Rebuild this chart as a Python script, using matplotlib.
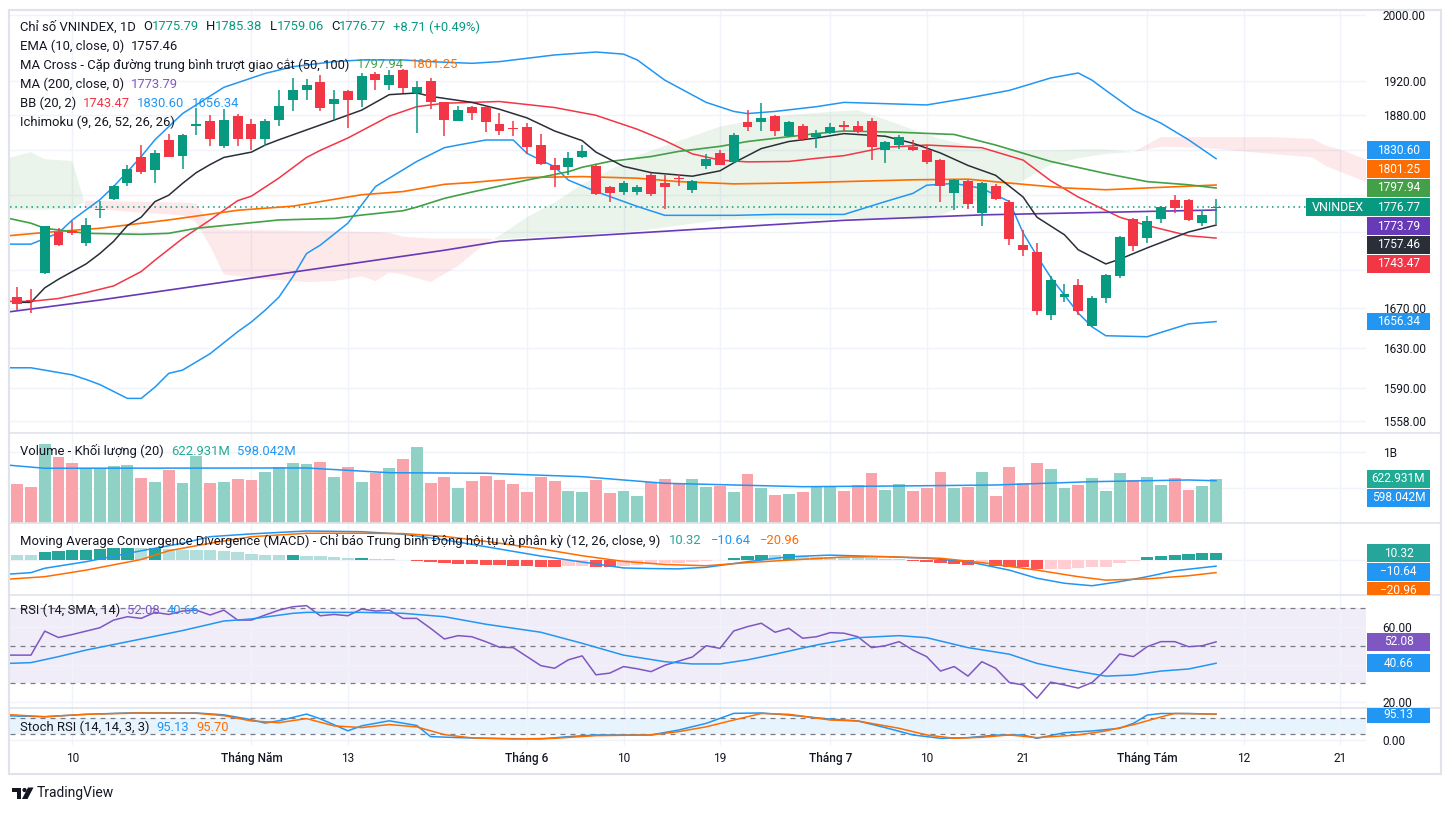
import matplotlib
matplotlib.use('Agg')
import matplotlib.pyplot as plt
import matplotlib.transforms as mtransforms
from matplotlib.patches import Rectangle, Polygon, Circle
from matplotlib.lines import Line2D
from matplotlib.ticker import NullLocator
import numpy as np

plt.rcParams['font.family'] = ['Roboto', 'DejaVu Sans']

W, H = 1452, 813
DARK = '#131722'
UP, DN = '#089981', '#f23645'
BLUE, ORANGE, GREEN, PURPLE, RSI_COL = '#2196f3', '#ff6d00', '#43a047', '#673ab7', '#7e57c2'
GRID, SEP = '#f0f3fa', '#e0e3eb'

# ---------------- data ----------------
opens = [1682, 1678, 1706, 1750, 1751, 1738, 1774, 1786, 1804, 1832,
         1818, 1852, 1834, 1868, 1874, 1845, 1879, 1870, 1853, 1875,
         1898, 1910, 1919, 1893, 1908, 1898, 1928, 1915, 1933, 1906,
         1920, 1895, 1874, 1890, 1890, 1870, 1865, 1866, 1846, 1823,
         1821, 1832, 1822, 1799, 1793, 1793, 1812, 1804, 1809, 1796,
         1822, 1837, 1827, 1872, 1872, 1879, 1856, 1868, 1855, 1860,
         1869, 1868, 1874, 1840, 1846, 1844, 1840, 1829, 1792, 1806,
         1771, 1800, 1783, 1736, 1729, 1663, 1682, 1694, 1652, 1681,
         1703, 1764, 1744, 1764, 1785, 1785, 1760, 1775.79]
highs = [1692, 1690, 1757, 1754, 1762, 1765, 1784, 1801, 1824, 1846,
         1840, 1859, 1858, 1888, 1880, 1887, 1881, 1876, 1876, 1910,
         1924, 1922, 1927, 1909, 1909, 1930, 1931, 1933, 1934, 1920,
         1924, 1896, 1891, 1891, 1891, 1883, 1874, 1871, 1858, 1831,
         1838, 1846, 1823, 1800, 1806, 1801, 1815, 1812, 1814, 1807,
         1836, 1840, 1860, 1886, 1894, 1880, 1873, 1870, 1863, 1871,
         1873, 1873, 1877, 1851, 1857, 1852, 1846, 1830, 1808, 1807,
         1805, 1802, 1785, 1752, 1738, 1703, 1695, 1700, 1683, 1705,
         1746, 1765, 1767, 1778, 1790, 1786, 1774, 1785.38]
lows = [1668, 1665, 1705, 1735, 1747, 1735, 1765, 1785, 1800, 1813,
        1804, 1832, 1819, 1857, 1845, 1843, 1845, 1840, 1845, 1868,
        1885, 1898, 1885, 1875, 1865, 1890, 1909, 1909, 1906, 1860,
        1887, 1856, 1873, 1875, 1861, 1857, 1856, 1836, 1823, 1799,
        1812, 1831, 1790, 1782, 1790, 1790, 1789, 1775, 1800, 1792,
        1819, 1823, 1826, 1862, 1862, 1856, 1855, 1851, 1843, 1859,
        1862, 1860, 1829, 1826, 1841, 1839, 1825, 1782, 1774, 1775,
        1757, 1785, 1736, 1724, 1663, 1658, 1676, 1663, 1651, 1675,
        1701, 1730, 1738, 1760, 1770, 1762, 1756, 1759.06]
closes = [1674, 1677, 1756, 1736, 1749, 1758, 1775, 1800, 1819, 1816,
          1837, 1833, 1857, 1870, 1853, 1875, 1853, 1853, 1874, 1891,
          1909, 1915, 1888, 1899, 1898, 1926, 1921, 1927, 1912, 1913,
          1896, 1875, 1886, 1883, 1872, 1862, 1864, 1844, 1825, 1818,
          1831, 1839, 1791, 1792, 1804, 1799, 1791, 1799, 1808, 1806,
          1830, 1824, 1857, 1867, 1877, 1862, 1872, 1853, 1860, 1867,
          1866, 1862, 1844, 1849, 1855, 1840, 1827, 1800, 1807, 1780,
          1804, 1786, 1742, 1731, 1667, 1699, 1685, 1667, 1680, 1704,
          1745, 1735, 1762, 1777, 1776, 1763, 1768.06, 1776.77]
volumes = [552, 510, 1119, 935, 850, 779, 779, 811, 826, 637,
           581, 755, 571, 953, 571, 581, 623, 609, 726, 793,
           850, 835, 864, 651, 797, 581, 708, 779, 906, 1076,
           566, 651, 496, 595, 666, 609, 552, 439, 651, 595,
           453, 439, 609, 425, 453, 382, 581, 623, 566, 623,
           514, 528, 443, 698, 496, 396, 415, 439, 506, 506,
           453, 538, 708, 467, 552, 453, 496, 722, 496, 510,
           722, 382, 793, 566, 850, 765, 496, 538, 637, 453,
           708, 609, 651, 538, 637, 467, 523, 622.931]

ema_idx = [0, 1, 2, 3, 4, 5, 6, 7, 8, 9, 10, 11, 12, 13, 14, 15, 16, 17, 18, 19,
           23, 25, 27, 29, 30, 33, 35, 37, 39, 41, 42, 44, 46, 49, 51, 52, 54, 56, 58, 60,
           63, 65, 67, 69, 71, 73, 74, 76, 77, 79, 80, 82, 85, 87]
ema_val = [1676, 1676, 1691, 1700, 1708, 1716, 1727, 1740, 1757, 1766, 1783, 1790, 1803, 1815,
           1824, 1832, 1835, 1838, 1846, 1852, 1874.5, 1886, 1904, 1906, 1902, 1895, 1887, 1877,
           1862, 1851, 1838, 1822, 1815, 1811, 1817, 1826, 1842, 1850, 1854, 1859, 1856, 1848,
           1837, 1823, 1812, 1788, 1766, 1747, 1731, 1716, 1721, 1733, 1750, 1757.46]

ma50_idx = [-1, 1, 2, 5, 9, 11, 13, 16, 19, 23, 25, 28, 29, 31, 33, 35, 37, 40, 41, 43,
            46, 48, 51, 53, 56, 58, 60, 64, 68, 71, 75, 79, 82, 85, 87]
ma50_val = [1766, 1759.5, 1754, 1748.6, 1747.5, 1748.6, 1754, 1758.5, 1763, 1764.6, 1768.3,
            1773, 1777, 1786.5, 1793.5, 1800, 1806.7, 1816, 1821, 1827.5, 1833, 1838.8, 1844.5,
            1850, 1855.5, 1859, 1862, 1860.5, 1858, 1846, 1827.5, 1814, 1805, 1801.5, 1797.94]

ma100_idx = [-1, 2, 6, 11, 16, 20, 25, 28, 31, 33, 37, 41, 45, 48, 52, 56, 60, 65, 69, 72,
             76, 79, 82, 87]
ma100_val = [1745.5, 1749.5, 1754, 1763, 1773.5, 1778, 1790.5, 1794, 1802, 1804, 1809.5,
             1810.6, 1808.8, 1805, 1802.5, 1803.4, 1805, 1807, 1807.7, 1803.4, 1798, 1796,
             1798, 1801.25]

ma200_idx = [-1, 6, 31, 35, 60, 70, 87]
ma200_val = [1665.5, 1678.4, 1730.5, 1740, 1762.6, 1768.5, 1773.79]

bb_mid_idx = [-1, 1, 3, 5, 7, 9, 10, 12, 14, 16, 17, 19, 21, 22, 24, 27, 29, 31, 35, 39,
              42, 45, 47, 49, 51, 53, 56, 58, 60, 63, 66, 70, 73, 75, 77, 80, 82, 85, 87]
bb_mid_val = [1677, 1677, 1680, 1686, 1693, 1708, 1720, 1743, 1763, 1784, 1789, 1809, 1832,
              1840, 1854, 1879, 1890, 1894, 1896, 1889, 1880, 1864, 1851, 1836, 1829, 1827,
              1827.5, 1831, 1834, 1843.5, 1846, 1843, 1829, 1806, 1788, 1766, 1757, 1746, 1743.47]

bb_up_idx = [-1, 1, 3, 4, 6, 7, 8, 9, 10, 12, 15, 18, 20, 23, 25, 28, 30, 33, 35, 39,
             42, 44, 45, 47, 50, 52, 53, 55, 58, 60, 66, 69, 72, 75, 77, 78, 79, 81, 83, 85, 87]
bb_up_val = [1737, 1737, 1749, 1763, 1785, 1799.5, 1816, 1833, 1852, 1882, 1912.6, 1929, 1937,
             1943, 1945, 1945, 1943, 1941, 1943, 1951, 1954.5, 1952, 1945, 1921, 1895, 1884.5,
             1882, 1884.5, 1890, 1895, 1892, 1900, 1909, 1923.6, 1929.5, 1921, 1909, 1886, 1871,
             1852, 1830.6]

bb_lo_idx = [-1, 1, 4, 5, 6, 8, 9, 10, 11, 12, 14, 16, 17, 18, 19, 20, 21, 22, 24, 26,
             29, 31, 32, 34, 36, 37, 39, 40, 42, 45, 47, 52, 55, 60, 63, 65, 66, 68, 70, 72,
             73, 74, 75, 77, 78, 79, 82, 85, 87]
bb_lo_val = [1610, 1610, 1603, 1598.5, 1593.5, 1580, 1580, 1591, 1604.5, 1607.7, 1624, 1646,
             1656, 1668, 1681.5, 1702.5, 1727, 1736, 1759.5, 1799.5, 1827.5, 1843, 1846,
             1851.7, 1851.7, 1836.5, 1821.5, 1806.7, 1794, 1777.7, 1768, 1768, 1769, 1769,
             1783, 1792, 1801, 1803, 1797.5, 1783, 1749, 1724.5, 1702, 1665, 1651, 1642, 1641,
             1654, 1656.34]

cloud_idx = [-1, 1, 2, 4, 5, 8, 12, 13, 14, 15, 18, 21, 23, 25, 26, 27, 28, 30, 32, 34,
             35, 37, 39, 41, 45, 51, 55, 59, 61, 63, 66, 67, 70, 71, 73, 75, 77, 79, 81, 83,
             86, 91, 94, 95, 96, 98]
span_a = [1830, 1838, 1830, 1828, 1776, 1772, 1768, 1760, 1735, 1705, 1700, 1697, 1698,
          1703, 1698, 1707, 1705, 1697, 1714, 1738, 1746, 1766, 1782, 1802, 1834, 1867,
          1879, 1884, 1886, 1875, 1858, 1853, 1842, 1840, 1840, 1840, 1841, 1841, 1838,
          1844, 1843, 1836, 1832, 1822, 1816, 1804]
span_b = [1774, 1774, 1774, 1775, 1784, 1783, 1782, 1781, 1757, 1752, 1752, 1751, 1751,
          1750, 1750, 1749, 1745, 1743, 1743, 1743, 1742, 1744, 1745, 1747, 1751, 1763,
          1764, 1764, 1765, 1765, 1763, 1768, 1786, 1792, 1806, 1824, 1831, 1836, 1838,
          1855, 1855, 1855, 1853, 1845, 1841, 1829]

vol_ma_idx = [-1, 2, 21, 27, 34, 41, 47, 50, 57, 64, 71, 78, 85, 87]
vol_ma_val = [825, 775, 779, 712, 704, 656, 562, 548, 514, 524, 538, 585, 609, 598.042]

macd_hist = [7, 7, 11.5, 13.5, 14.5, 16, 17, 18, 18.5, 18,
             18.5, 17, 16, 15.5, 14.5, 13, 11.5, 8.5, 7.2, 7,
             7.3, 6, 5.5, 4, 3, 3.2, 1.5, 1, -1, -2,
             -3.5, -5.5, -7, -7.5, -8.5, -9, -10, -11, -11.5, -12,
             -11, -10, -12, -12.5, -10.5, -9, -7.5, -6, -5, -4,
             -2.5, -1.5, 2.5, 5, 7, 6.8, 8.5, 5, 4.8, 4.6,
             3.5, 3.4, 2.5, 1.5, 1, -2.5, -4, -6, -6.5, -8.5,
             -7.5, -11, -11.5, -11.8, -15, -14.8, -14.6, -14, -11.5, -11.3,
             -5, -2.5, 4, 6, 8, 9.5, 9.8, 10.32]
macd_idx = [-1, 1, 2, 5, 9, 12, 14, 17, 21, 25, 28, 31, 34, 38, 41, 44, 46, 48, 50, 53,
            56, 59, 63, 66, 69, 72, 74, 76, 78, 80, 82, 84, 87]
macd_val = [-24, -21, -14, -3.5, 14, 26, 36.5, 41, 45.6, 44.5, 40.5, 31.5, 20.5, 5.5, -4,
            -13.5, -14.5, -15, -12.5, -3.5, 4.5, 7, 4.5, 2, -3.5, -17, -30, -38, -42, -35.5,
            -27.5, -18, -10.64]
signal_idx = [-1, 2, 5, 9, 11, 14, 17, 21, 25, 28, 31, 34, 38, 41, 44, 47, 50, 53, 56, 60,
              63, 67, 70, 74, 77, 79, 82, 85, 87]
signal_val = [-32, -27.5, -17, 0, 14, 26, 36.5, 42, 42, 41.5, 37, 29, 17, 6, -3, -8, -10, -5,
              -1, 4, 4.5, 2, -5, -17, -27.5, -33, -31, -26, -20.96]

rsi_start = 45
rsi = [45, 45, 57.8, 54.4, 56, 57.8, 59.6, 63.7, 65.5, 64.6,
       67.8, 66.7, 68.5, 69, 66.4, 69, 63.7, 63.7, 66.4, 69,
       70.8, 71.4, 66, 66.7, 66, 69.6, 68.5, 69, 64.6, 64.6,
       59.3, 53.6, 55.4, 54.8, 52.2, 49.2, 49, 44.2, 39.4, 38,
       42.5, 44.6, 34.5, 35.4, 38.9, 37.7, 36.2, 39.6, 41.8, 44,
       50, 48.6, 57.9, 60.2, 62, 57.2, 59.3, 54, 54.8, 57,
       56.7, 54.8, 49, 50, 52.2, 47.7, 44.2, 36.5, 38.9, 33.8,
       41.5, 38, 30.4, 29.1, 22, 30.6, 29.1, 27.4, 30.4, 37.2,
       45.6, 44.2, 49.5, 52.2, 52.2, 49.5, 50, 52.08]
rsi_ma_idx = [-1, 1, 3, 5, 9, 12, 15, 17, 20, 21, 25, 28, 31, 34, 38, 41, 44, 47, 49, 51,
              53, 55, 58, 61, 64, 66, 69, 72, 74, 76, 79, 81, 83, 85, 87]
rsi_ma_val = [40.5, 41, 44.2, 47.7, 53.6, 58.1, 63.2, 64.3, 67.3, 67.8, 67.8, 67.3, 65.5,
              61.5, 57.2, 51.3, 45, 41.5, 40.3, 40.3, 42.5, 45.5, 50.4, 54.3, 55.4, 54.3, 49,
              45.5, 40.6, 37.6, 33.8, 34.4, 36.5, 37.6, 40.66]

stk_idx = [-1, 2, 5, 8, 13, 15, 17, 18, 19, 21, 22, 24, 25, 27, 29, 30, 32, 34, 38, 40,
           42, 44, 46, 48, 50, 52, 54, 56, 59, 61, 63, 65, 67, 69, 71, 73, 74, 76, 78, 80,
           81, 82, 83, 85, 87]
stk_val = [89.6, 85.9, 94.9, 100, 100, 93, 74.6, 62, 70.9, 95.8, 78, 33, 51.8, 70.6, 53,
           11.3, 7.5, 5, 2.5, 11.3, 17.6, 17.6, 17.6, 36, 61, 98.5, 100, 92, 77, 70, 45, 17.6,
           5, 7.5, 17, 17.6, 5, 26, 32.6, 42.5, 61, 92, 98, 98, 95.13]
std_idx = [-1, 2, 5, 9, 13, 15, 17, 19, 21, 23, 25, 27, 29, 31, 33, 36, 39, 42, 46, 48,
           50, 52, 54, 56, 59, 61, 64, 66, 68, 70, 72, 74, 77, 79, 81, 83, 84, 87]
std_val = [94.9, 85.9, 94.9, 99.9, 98.8, 89.8, 70, 63.8, 78.9, 51.6, 45.2, 56.5, 47.7, 18.8,
           6.5, 2.5, 5, 14.9, 17.6, 30, 48, 73.6, 98, 95, 73.6, 70, 42.5, 17.6, 5, 8.7, 17.6,
           7.5, 17.6, 32.6, 56, 85, 98, 95.7]

tick_idx = [4, 17, 24, 37, 44, 51, 59, 66, 73, 82, 89, 96]
tick_lab = ['10', 'Tháng Năm', '13', 'Tháng 6', '10', '19', 'Tháng 7', '10', '21',
            'Tháng Tám', '12', '21']
price_ticks = [1558, 1590, 1630, 1670, 1710, 1750, 1790, 1840, 1880, 1920, 2000]
# labels of these ticks sit under the value badges on the price scale
price_hidden = [1710, 1750, 1790, 1840]

# ---------------- layout ----------------
fig = plt.figure(figsize=(W / 100, H / 100), dpi=100)
fig.patch.set_facecolor('white')


def px_rect(x0, y0, x1, y1):
    return [x0 / W, 1 - y1 / H, (x1 - x0) / W, (y1 - y0) / H]


PANES = {'p': (10, 433), 'v': (433, 523), 'm': (523, 595), 'r': (595, 708), 's': (708, 745)}
LEFT, RIGHT = 10, 1366
ax_p = fig.add_axes(px_rect(LEFT, PANES['p'][0], RIGHT, PANES['p'][1]))
ax_v = fig.add_axes(px_rect(LEFT, PANES['v'][0], RIGHT, PANES['v'][1]))
ax_m = fig.add_axes(px_rect(LEFT, PANES['m'][0], RIGHT, PANES['m'][1]))
ax_r = fig.add_axes(px_rect(LEFT, PANES['r'][0], RIGHT, PANES['r'][1]))
ax_s = fig.add_axes(px_rect(LEFT, PANES['s'][0], RIGHT, PANES['s'][1]))
ax_p.set_yscale('log')


def setup(ax, ylim, yticks, ylabels):
    ax.set_xlim(-0.52, 97.88)
    ax.set_ylim(*ylim)
    for s in ax.spines.values():
        s.set_visible(False)
    ax.set_xticks(tick_idx)
    ax.tick_params(axis='x', length=0, labelbottom=False)
    ax.yaxis.tick_right()
    ax.set_yticks(yticks)
    ax.set_yticklabels(ylabels)
    ax.yaxis.set_minor_locator(NullLocator())
    ax.tick_params(axis='y', length=0, pad=12, labelsize=8.6, labelcolor=DARK)
    ax.grid(True, color=GRID, lw=1)
    ax.set_axisbelow(True)


setup(ax_p, (1546.8, 2005.6), price_ticks,
      ['' if v in price_hidden else f'{v:.2f}' for v in price_ticks])
setup(ax_v, (0, 1274), [500, 1000], ['', '1B'])
setup(ax_m, (-56.8, 58.4), [0], [''])
setup(ax_r, (16.8, 77.07), [20, 40, 60], ['20.00', '', '60.00'])
setup(ax_s, (-20.1, 118.6), [0], ['0.00'])

# ---------------- price pane ----------------
idx = np.arange(len(closes))
o, h, l, c = map(np.array, (opens, highs, lows, closes))
up = c >= o
cols = np.where(up, UP, DN)

ca, cb = np.array(span_a), np.array(span_b)
ax_p.fill_between(cloud_idx, ca, cb, where=ca >= cb, interpolate=True, color=GREEN, alpha=0.11, lw=0, zorder=1)
ax_p.fill_between(cloud_idx, ca, cb, where=ca < cb, interpolate=True, color=DN, alpha=0.11, lw=0, zorder=1)

ax_p.plot(bb_up_idx, bb_up_val, color=BLUE, lw=1.1, zorder=3)
ax_p.plot(bb_lo_idx, bb_lo_val, color=BLUE, lw=1.1, zorder=3)
ax_p.plot(bb_mid_idx, bb_mid_val, color=DN, lw=1.1, zorder=3)
ax_p.plot(ma200_idx, ma200_val, color=PURPLE, lw=1.2, zorder=3)
ax_p.plot(ma100_idx, ma100_val, color=ORANGE, lw=1.2, zorder=3)
ax_p.plot(ma50_idx, ma50_val, color=GREEN, lw=1.2, zorder=3)
ax_p.plot(ema_idx, ema_val, color='#2a2e39', lw=1.1, zorder=3)
ax_p.axhline(closes[-1], color=UP, lw=1.1, ls=(0, (1, 2.5)), zorder=2.5)

ax_p.vlines(idx, l, h, colors=cols, lw=1.1, zorder=4)
ax_p.bar(idx, np.maximum(np.abs(c - o), 1.2), bottom=np.minimum(o, c), width=0.72,
         color=cols, lw=0, zorder=5)

# ---------------- volume pane ----------------
vcols = np.where(up, '#90d1c6', '#f9a4ab')
ax_v.bar(idx, volumes, width=0.86, color=vcols, lw=0, zorder=2)
ax_v.plot(vol_ma_idx, vol_ma_val, color=BLUE, lw=1.1, zorder=3)

# ---------------- MACD pane ----------------
hist = np.array(macd_hist)
prev = np.concatenate([[hist[0]], hist[:-1]])
hcols = []
for cur, pv in zip(hist, prev):
    if cur >= 0:
        hcols.append('#26a69a' if cur > pv else '#b2dfdb')
    else:
        hcols.append('#ff5252' if cur < pv else '#ffcdd2')
ax_m.bar(idx, hist, width=0.9, color=hcols, lw=0, zorder=2)
ax_m.plot(macd_idx, macd_val, color=BLUE, lw=1.1, zorder=3)
ax_m.plot(signal_idx, signal_val, color=ORANGE, lw=1.1, zorder=3)

# ---------------- RSI pane ----------------
ax_r.axhspan(30, 70, color=RSI_COL, alpha=0.1, lw=0, zorder=0.5)
for lvl in (70, 50, 30):
    ax_r.axhline(lvl, color='#787b86', lw=0.9, ls=(0, (4, 4)), zorder=1)
ax_r.plot(np.concatenate([[-1], idx]), [rsi_start] + rsi, color=RSI_COL, lw=1.1, zorder=3)
ax_r.plot(rsi_ma_idx, rsi_ma_val, color=BLUE, lw=1.1, zorder=3)

# ---------------- Stoch RSI pane ----------------
ax_s.axhspan(20, 80, color=BLUE, alpha=0.1, lw=0, zorder=0.5)
for lvl in (80, 20):
    ax_s.axhline(lvl, color='#787b86', lw=0.9, ls=(0, (4, 4)), zorder=1)
ax_s.plot(stk_idx, stk_val, color=BLUE, lw=1.1, zorder=3)
ax_s.plot(std_idx, std_val, color=ORANGE, lw=1.1, zorder=3)

# x labels
xt = mtransforms.blended_transform_factory(ax_s.transData, fig.transFigure)
for t, lab in zip(tick_idx, tick_lab):
    bold = lab.startswith('Tháng')
    ax_s.text(t, 1 - 758 / H, lab, transform=xt, ha='center', va='center', fontsize=8.6,
              color=DARK, fontweight='medium' if bold else 'normal', clip_on=False)


# ---------------- price scale badges ----------------
def fmt(v):
    return ('\u2212' if v < 0 else '') + f'{abs(v):.2f}'


def to_px(ax, v):
    return H - ax.transData.transform((0, v))[1]


def badges(ax, pane, items, anchor=None, hgt=18.8):
    ys = [to_px(ax, it[0]) for it in items]
    order = sorted(range(len(items)), key=lambda k: ys[k])
    pos = dict(enumerate(ys))
    if anchor is None:
        for a, b in zip(order, order[1:]):
            pos[b] = max(pos[b], pos[a] + hgt)
    else:
        ai = order.index(anchor)
        for j in range(ai - 1, -1, -1):
            pos[order[j]] = min(pos[order[j]], pos[order[j + 1]] - hgt)
        for j in range(ai + 1, len(order)):
            pos[order[j]] = max(pos[order[j]], pos[order[j - 1]] + hgt)
    top, bot = pane
    clip = Rectangle((0, 1 - bot / H), 1, (bot - top) / H, transform=fig.transFigure)
    for k, it in enumerate(items):
        v, txt, col = it[:3]
        x0 = it[3] if len(it) > 3 else 1367
        y = pos[k]
        r = Rectangle((x0 / W, 1 - (y + hgt / 2 - 0.5) / H), (1430 - x0) / W, (hgt - 1) / H,
                      transform=fig.transFigure, color=col, lw=0, zorder=2)
        fig.add_artist(r)
        r.set_clip_path(clip)
        t = fig.text(1398.5 / W, 1 - y / H, txt, color='white', fontsize=8.6, ha='center',
                     va='center', zorder=3)
        t.set_clip_path(clip)
        if len(it) > 4:
            t2 = fig.text((x0 + 6) / W, 1 - y / H, it[4], color='white', fontsize=9,
                          ha='left', va='center', zorder=3)
            t2.set_clip_path(clip)


badges(ax_p, PANES['p'], [
    (bb_up_val[-1], fmt(bb_up_val[-1]), BLUE),
    (ma100_val[-1], fmt(ma100_val[-1]), ORANGE),
    (ma50_val[-1], fmt(ma50_val[-1]), GREEN),
    (closes[-1], fmt(closes[-1]), UP, 1306, 'VNINDEX'),
    (ma200_val[-1], fmt(ma200_val[-1]), PURPLE),
    (ema_val[-1], fmt(ema_val[-1]), '#2a2e39'),
    (bb_mid_val[-1], fmt(bb_mid_val[-1]), DN),
], anchor=3)
badges(ax_p, PANES['p'], [(bb_lo_val[-1], fmt(bb_lo_val[-1]), BLUE)])
badges(ax_v, PANES['v'], [(volumes[-1], f'{volumes[-1]:.3f}M', '#22ab94'),
                          (vol_ma_val[-1], f'{vol_ma_val[-1]:.3f}M', BLUE)])
badges(ax_m, PANES['m'], [(macd_hist[-1], fmt(macd_hist[-1]), '#26a69a'),
                          (macd_val[-1], fmt(macd_val[-1]), BLUE),
                          (signal_val[-1], fmt(signal_val[-1]), ORANGE)])
badges(ax_r, PANES['r'], [(rsi[-1], fmt(rsi[-1]), RSI_COL),
                          (rsi_ma_val[-1], fmt(rsi_ma_val[-1]), BLUE)])
badges(ax_s, PANES['s'], [(max(stk_val[-1], 84), fmt(stk_val[-1]), BLUE)])

# ---------------- legends ----------------
renderer = fig.canvas.get_renderer()


def legend_row(y, parts, x=20, size=9.4):
    for txt, col, gap in parts:
        t = fig.text(x / W, 1 - y / H, txt, color=col, fontsize=size, ha='left', va='center',
                     zorder=4)
        x += t.get_window_extent(renderer=renderer).width + gap


chg = closes[-1] - closes[-2]
legend_row(27, [('Chỉ số VNINDEX, 1D', DARK, 7), ('O', DARK, 0), (f'{opens[-1]:.2f}', UP, 7),
                ('H', DARK, 0), (f'{highs[-1]:.2f}', UP, 7), ('L', DARK, 0),
                (f'{lows[-1]:.2f}', UP, 7), ('C', DARK, 0), (f'{closes[-1]:.2f}', UP, 7),
                (f'+{chg:.2f} (+{chg / closes[-2] * 100:.2f}%)', UP, 0)])
legend_row(46, [('EMA (10, close, 0)', DARK, 7), (fmt(ema_val[-1]), DARK, 0)])
legend_row(65, [('MA Cross - Cặp đường trung bình trượt giao cắt (50, 100)', DARK, 7),
                (fmt(ma50_val[-1]), GREEN, 7), (fmt(ma100_val[-1]), ORANGE, 0)])
legend_row(84, [('MA (200, close, 0)', DARK, 7), (fmt(ma200_val[-1]), RSI_COL, 0)])
legend_row(103, [('BB (20, 2)', DARK, 7), (fmt(bb_mid_val[-1]), DN, 7),
                 (fmt(bb_up_val[-1]), BLUE, 7), (fmt(bb_lo_val[-1]), BLUE, 0)])
legend_row(122, [('Ichimoku (9, 26, 52, 26, 26)', DARK, 0)])
legend_row(451, [('Volume - Khối lượng (20)', DARK, 7), (f'{volumes[-1]:.3f}M', '#22ab94', 7),
                 (f'{vol_ma_val[-1]:.3f}M', BLUE, 0)])
legend_row(541, [('Moving Average Convergence Divergence (MACD) - Chỉ báo Trung bình Động hội tụ và phân kỳ (12, 26, close, 9)', DARK, 9),
                 (fmt(macd_hist[-1]), '#26a69a', 9), (fmt(macd_val[-1]), BLUE, 9),
                 (fmt(signal_val[-1]), ORANGE, 0)])
legend_row(610, [('RSI (14, SMA, 14)', DARK, 7), (fmt(rsi[-1]), RSI_COL, 7),
                 (fmt(rsi_ma_val[-1]), BLUE, 0)])
legend_row(727, [('Stoch RSI (14, 14, 3, 3)', DARK, 7), (fmt(stk_val[-1]), BLUE, 7),
                 (fmt(std_val[-1]), ORANGE, 0)])

# ---------------- separators, frame, footer ----------------
for y in (433, 523, 595, 708):
    fig.add_artist(Line2D([10 / W, 1440 / W], [1 - y / H] * 2, color=SEP, lw=1.2, zorder=1))
fig.add_artist(Rectangle((9 / W, 1 - 774 / H), 1432 / W, 764 / H, fill=False, ec=SEP, lw=1.5,
                         transform=fig.transFigure, zorder=1))

logo = [Polygon([(12, 787.5), (21, 787.5), (21, 799), (17, 799), (17, 791.5), (12, 791.5)]),
        Circle((24.5, 790), 2.1),
        Polygon([(28, 787.5), (33.5, 787.5), (27.5, 799), (22, 799)])]
for p in logo:
    p.set_transform(mtransforms.Affine2D().scale(1 / W, -1 / H).translate(0, 1) + fig.transFigure)
    p.set_facecolor(DARK)
    p.set_edgecolor('none')
    fig.add_artist(p)
fig.text(37 / W, 1 - 793 / H, 'TradingView', fontsize=10, color=DARK, ha='left', va='center')

fig.savefig('out.png', dpi=100, facecolor='white')
